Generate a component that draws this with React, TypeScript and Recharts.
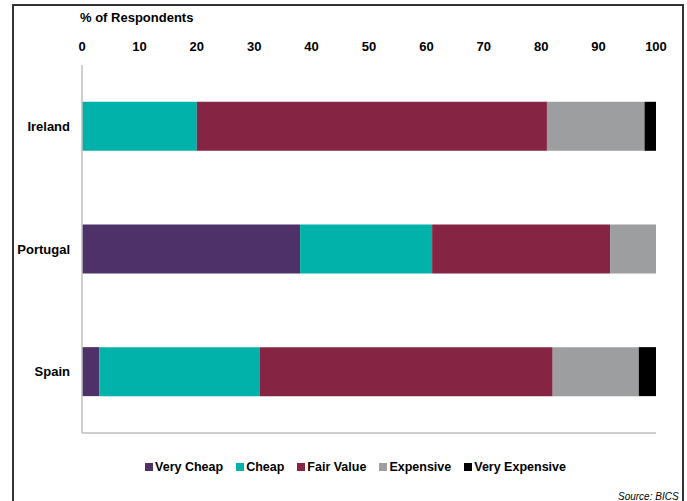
import React from "react";
import { BarChart, Bar, XAxis, YAxis } from "recharts";

const countries = ["Ireland", "Portugal", "Spain"];
const veryCheap = [0, 38, 3];
const cheap = [20, 23, 28];
const fairValue = [61, 31, 51];
const expensive = [17, 8, 15];
const veryExpensive = [2, 0, 3];
const xTicks = [0, 10, 20, 30, 40, 50, 60, 70, 80, 90, 100];

const seriesNames = ["Very Cheap", "Cheap", "Fair Value", "Expensive", "Very Expensive"];
const seriesKeys = ["veryCheap", "cheap", "fairValue", "expensive", "veryExpensive"];
const seriesColors = ["#4E3169", "#00B2A9", "#862443", "#9D9E9F", "#000000"];

const data = countries.map((c, i) => ({
  country: c,
  veryCheap: veryCheap[i],
  cheap: cheap[i],
  fairValue: fairValue[i],
  expensive: expensive[i],
  veryExpensive: veryExpensive[i],
}));

const FONT = "'Liberation Sans', Arial, sans-serif";

export default function App() {
  return (
    <div style={{ position: "absolute", left: 0, top: 0, width: 687, height: 501, overflow: "hidden", background: "#fff", fontFamily: FONT }}>
      <div style={{ position: "absolute", left: 12, top: 4, width: 668, height: 560, border: "2px solid #333" }} />
      <div style={{ position: "absolute", left: 80, top: 10, fontSize: 13, fontWeight: "bold", color: "#000", whiteSpace: "nowrap" }}>
        % of Respondents
      </div>
      <div style={{ position: "absolute", left: 0, top: 0 }}>
        <BarChart
          width={687}
          height={501}
          data={data}
          layout="vertical"
          margin={{ top: 20, right: 31, bottom: 67, left: 0 }}
          barCategoryGap="30%"
        >
          <XAxis
            type="number"
            orientation="top"
            domain={[0, 100]}
            ticks={xTicks}
            height={45}
            axisLine={false}
            tickLine={false}
            tickMargin={8}
            tick={{ fill: "#000", fontSize: 13, fontWeight: "bold", fontFamily: FONT }}
            interval={0}
          />
          <XAxis
            xAxisId="bottom"
            type="number"
            orientation="bottom"
            domain={[0, 100]}
            height={1}
            tick={false}
            tickLine={false}
            axisLine={{ stroke: "#BFBFBF", strokeWidth: 1.5 }}
          />
          <YAxis
            type="category"
            dataKey="country"
            width={82}
            tickLine={false}
            tickMargin={6}
            axisLine={{ stroke: "#BFBFBF", strokeWidth: 1.5 }}
            tick={{ fill: "#000", fontSize: 13, fontWeight: "bold", fontFamily: FONT }}
          />
          {seriesKeys.map((k, i) => (
            <Bar key={k} dataKey={k} name={seriesNames[i]} stackId="a" fill={seriesColors[i]} isAnimationActive={false} />
          ))}
        </BarChart>
      </div>
      <div style={{ position: "absolute", left: 0, width: 711, top: 460, display: "flex", justifyContent: "center", fontSize: 12.5, fontWeight: "bold", color: "#000" }}>
        {seriesNames.map((n, i) => (
          <div key={n} style={{ display: "flex", alignItems: "center", marginRight: i < seriesNames.length - 1 ? 13 : 0 }}>
            <span style={{ display: "inline-block", width: 8, height: 8, background: seriesColors[i], marginRight: 2 }} />
            <span style={{ whiteSpace: "nowrap" }}>{n}</span>
          </div>
        ))}
      </div>
      <div style={{ position: "absolute", left: 618, top: 491, fontSize: 10, fontStyle: "italic", color: "#000", whiteSpace: "nowrap" }}>
        Source: BICS
      </div>
    </div>
  );
}
